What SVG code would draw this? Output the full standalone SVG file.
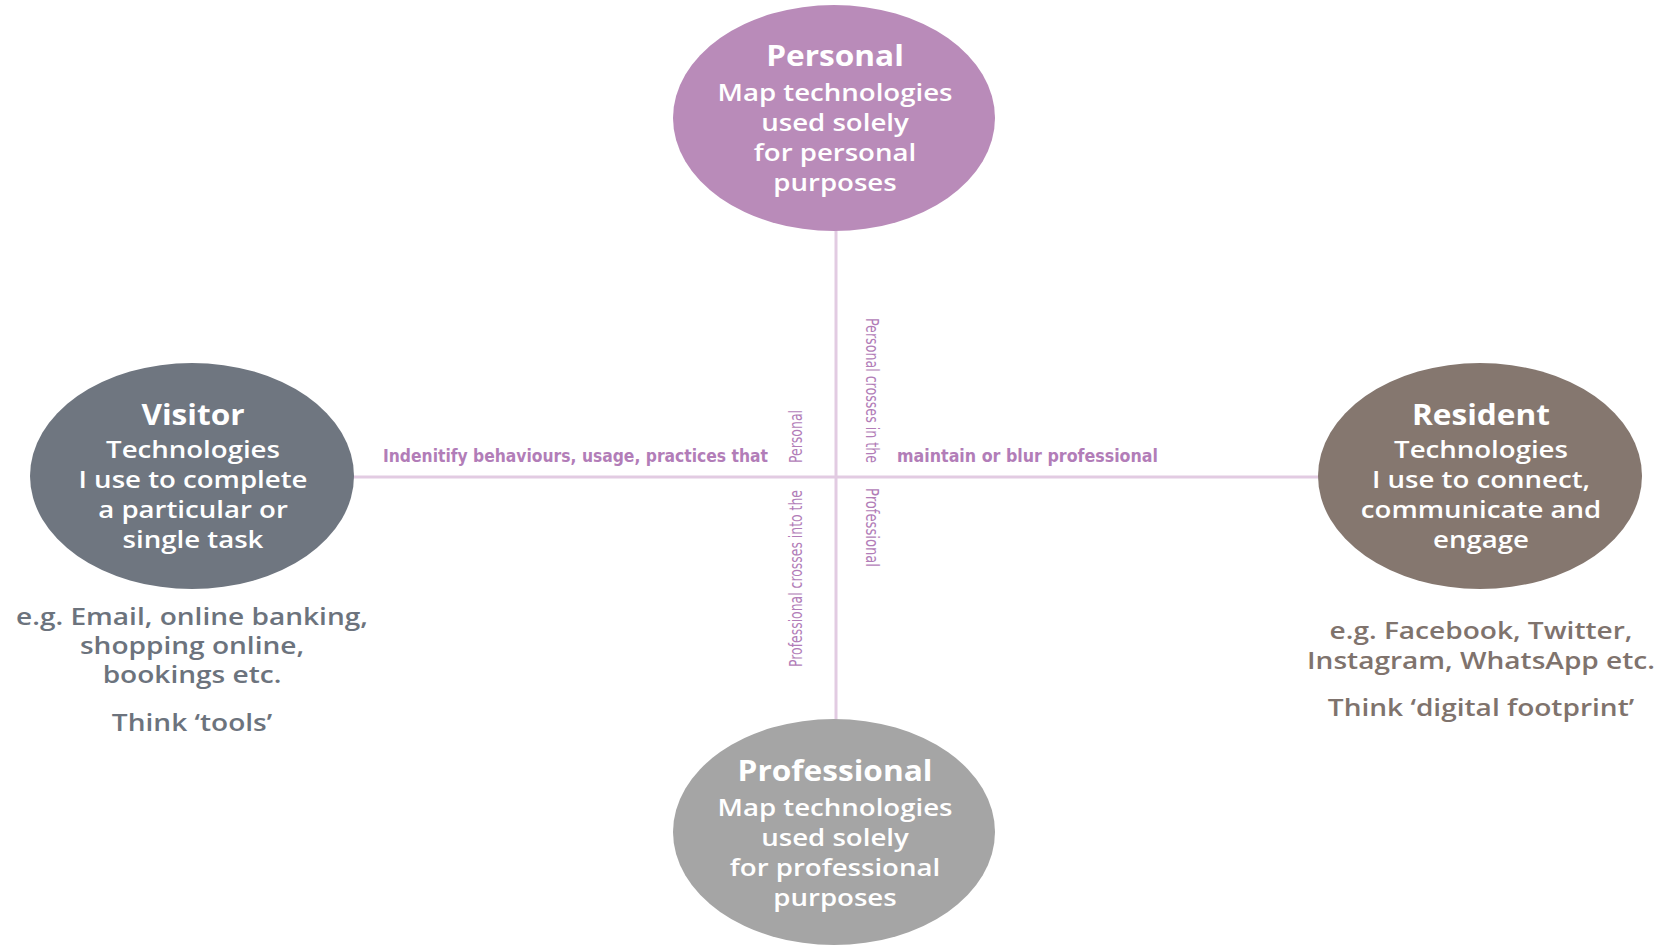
<svg xmlns="http://www.w3.org/2000/svg" width="1665" height="945" viewBox="0 0 1665 945">
<style>
.bg{fill:#ffffff}
.conn{stroke:#e2cbe2;stroke-width:3;fill:none}
.title{font-family:"Open Sans","Noto Sans",sans-serif;font-weight:700;font-size:28px;fill:#ffffff;text-anchor:middle}
.body{font-family:"Open Sans","Noto Sans",sans-serif;font-weight:600;font-size:23px;fill:#ffffff;text-anchor:middle}
.lbl{font-family:"DejaVu Sans Condensed","Liberation Sans",sans-serif;font-weight:700;font-size:17px;fill:#b27db8}
.vl{font-family:"DejaVu Sans Condensed","Liberation Sans",sans-serif;font-size:18px;fill:#b27db8}
.note-v{font-family:"Open Sans","Noto Sans",sans-serif;font-weight:600;font-size:23px;fill:#6c737d;text-anchor:middle}
.note-r{font-family:"Open Sans","Noto Sans",sans-serif;font-weight:600;font-size:23px;fill:#7f736d;text-anchor:middle}
</style>
<rect class="bg" x="0" y="0" width="1665" height="945"/>
<g id="connectors">
<line class="conn" x1="836" y1="229" x2="836" y2="722"/>
<line class="conn" x1="352" y1="477" x2="1320" y2="477"/>
<text class="lbl" x="383" y="462" textLength="385" lengthAdjust="spacingAndGlyphs">Indenitify behaviours, usage, practices that</text>
<text class="lbl" x="897" y="462" textLength="261" lengthAdjust="spacingAndGlyphs">maintain or blur professional</text>
<text class="vl" transform="translate(802,463) rotate(-90)" textLength="53" lengthAdjust="spacingAndGlyphs">Personal</text>
<text class="vl" transform="translate(802,667) rotate(-90)" textLength="177" lengthAdjust="spacingAndGlyphs">Professional crosses into the</text>
<text class="vl" transform="translate(866,318) rotate(90)" textLength="145" lengthAdjust="spacingAndGlyphs">Personal crosses in the</text>
<text class="vl" transform="translate(866,488) rotate(90)" textLength="79" lengthAdjust="spacingAndGlyphs">Professional</text>
</g>
<g id="personal">
<ellipse cx="834" cy="118" rx="161" ry="113" fill="#b98bb9"/>
<g transform="translate(835,0) scale(1.13,1)"><text class="title" x="0" y="66">Personal</text></g>
<g transform="translate(835,0) scale(1.2,1)">
<text class="body" x="0" y="101">Map technologies</text>
<text class="body" x="0" y="131">used solely</text>
<text class="body" x="0" y="161">for personal</text>
<text class="body" x="0" y="191">purposes</text>
</g>
</g>
<g id="visitor">
<ellipse cx="192" cy="476" rx="162" ry="113" fill="#6f7680"/>
<g transform="translate(193,0) scale(1.13,1)"><text class="title" x="0" y="425">Visitor</text></g>
<g transform="translate(193,0) scale(1.2,1)">
<text class="body" x="0" y="458">Technologies</text>
<text class="body" x="0" y="488">I use to complete</text>
<text class="body" x="0" y="518">a particular or</text>
<text class="body" x="0" y="548">single task</text>
</g>
</g>
<g id="visitor-notes" transform="translate(192,0) scale(1.22,1)">
<text class="note-v" x="0" y="625">e.g. Email, online banking,</text>
<text class="note-v" x="0" y="654">shopping online,</text>
<text class="note-v" x="0" y="683">bookings etc.</text>
<text class="note-v" x="0" y="731">Think ‘tools’</text>
</g>
<g id="resident">
<ellipse cx="1480" cy="476" rx="162" ry="113" fill="#85776f"/>
<g transform="translate(1481,0) scale(1.13,1)"><text class="title" x="0" y="425">Resident</text></g>
<g transform="translate(1481,0) scale(1.2,1)">
<text class="body" x="0" y="458">Technologies</text>
<text class="body" x="0" y="488">I use to connect,</text>
<text class="body" x="0" y="518">communicate and</text>
<text class="body" x="0" y="548">engage</text>
</g>
</g>
<g id="resident-notes" transform="translate(1481,0) scale(1.22,1)">
<text class="note-r" x="0" y="639">e.g. Facebook, Twitter,</text>
<text class="note-r" x="0" y="669">Instagram, WhatsApp etc.</text>
<text class="note-r" x="0" y="716">Think ‘digital footprint’</text>
</g>
<g id="professional">
<ellipse cx="834" cy="832" rx="161" ry="113" fill="#a5a5a5"/>
<g transform="translate(835,0) scale(1.13,1)"><text class="title" x="0" y="781">Professional</text></g>
<g transform="translate(835,0) scale(1.2,1)">
<text class="body" x="0" y="816">Map technologies</text>
<text class="body" x="0" y="846">used solely</text>
<text class="body" x="0" y="876">for professional</text>
<text class="body" x="0" y="906">purposes</text>
</g>
</g>
</svg>
